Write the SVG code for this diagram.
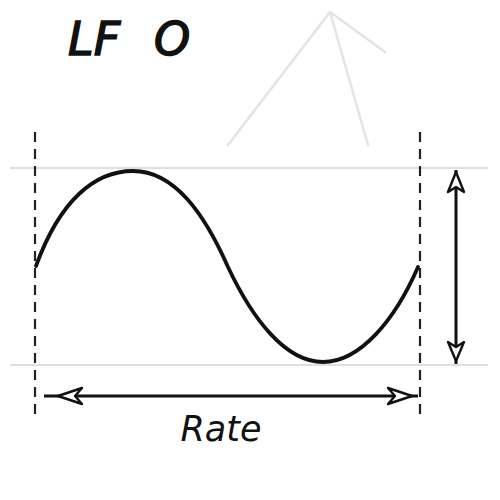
<svg xmlns="http://www.w3.org/2000/svg" width="500" height="500" viewBox="0 0 500 500">
<style>
.guide{stroke:#d4d4d4;stroke-width:1.5;fill:none}
.faint{stroke:#e4e4e4;stroke-width:2.5;fill:none;stroke-linecap:round}
.dash{stroke:#222;stroke-width:2.2;stroke-dasharray:10,7;fill:none}
.wave{stroke:#111;stroke-width:3.8;fill:none;stroke-linecap:round}
.shaft{stroke:#111;stroke-width:3;fill:none}
.head{stroke:#111;stroke-width:2.4;fill:#fff;stroke-linejoin:round}
.hand{font-family:"DejaVu Sans","Liberation Sans",sans-serif;font-style:italic;fill:#111}
</style>
<rect width="500" height="500" fill="#fff"/>
<g id="background-lines">
<path class="faint" d="M330,12 L228,145 M330,12 L368,145 M330,12 L385,52"/>
<line class="guide" x1="10" y1="168" x2="488" y2="168"/>
<line class="guide" x1="10" y1="365" x2="488" y2="365"/>
<line class="dash" x1="35" y1="132" x2="35" y2="418"/>
<line class="dash" x1="420" y1="132" x2="420" y2="420"/>
</g>
<g id="wave">
<path class="wave" d="M36,266 C60,200 95,171 133,171 C175,171 205,215 228,267 C252,318 285,362 323,362 C360,362 395,320 418,267"/>
</g>
<g id="connectors">
<line class="shaft" x1="456" y1="170" x2="456" y2="364"/>
<polygon class="head" points="456,172 464,192 456,187 448,192"/>
<polygon class="head" points="456,361 464,342 456,347 448,342"/>
<line class="shaft" x1="44" y1="396" x2="418" y2="396"/>
<polygon class="head" points="58,396 82,388 75,396 82,404"/>
<polygon class="head" points="412,396 388,388 395,396 388,404"/>
</g>
<g id="title">
<text class="hand" x="68" y="55" font-size="46" stroke="#111" stroke-width="1.5">LF <tspan x="154">O</tspan></text>
</g>
<g id="rate-label">
<text class="hand" x="221" y="441" font-size="35" text-anchor="middle">Rate</text>
</g>
</svg>
